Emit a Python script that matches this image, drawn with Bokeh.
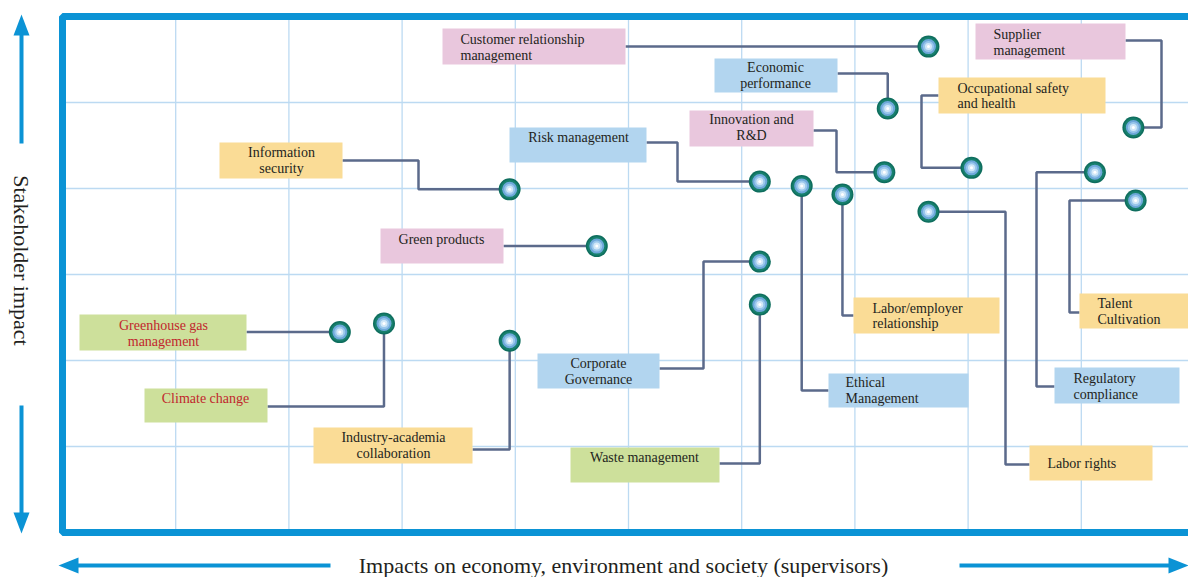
import math
from bokeh.plotting import figure
from bokeh.models import Range1d
from bokeh.core.properties import value
from bokeh.embed import file_html
from bokeh.resources import INLINE

# ---------------- data ----------------
topics = ["Customer relationship management", "Economic performance", "Supplier management",
          "Occupational safety and health", "Innovation and R&D", "Risk management",
          "Information security", "Green products", "Ethical Management",
          "Labor/employer relationship", "Labor rights", "Regulatory compliance",
          "Talent Cultivation", "Corporate Governance", "Waste management",
          "Industry-academia collaboration", "Greenhouse gas management", "Climate change"]
# x: impacts on economy, environment and society (grid units 0-10)
economy_impact = [7.65, 7.29, 9.46, 8.03, 7.26, 6.16, 3.95, 4.72, 6.53,
                  6.89, 7.65, 9.12, 9.48, 6.16, 6.16, 3.95, 2.45, 2.84]
# y: stakeholder impact (grid units 0-6)
stakeholder_impact = [5.65, 4.93, 4.71, 4.24, 4.19, 4.08, 3.99, 3.33, 4.03,
                      3.93, 3.73, 4.19, 3.86, 3.15, 2.65, 2.23, 2.33, 2.43]
label_lines = [["Customer relationship", "management"], ["Economic", "performance"],
               ["Supplier", "management"], ["Occupational safety", "and health"],
               ["Innovation and", "R&D"], ["Risk management"], ["Information", "security"],
               ["Green products"], ["Ethical", "Management"], ["Labor/employer", "relationship"],
               ["Labor rights"], ["Regulatory", "compliance"], ["Talent", "Cultivation"],
               ["Corporate", "Governance"], ["Waste management"],
               ["Industry-academia", "collaboration"], ["Greenhouse gas", "management"],
               ["Climate change"]]
category = ["pink", "blue", "pink", "yellow", "pink", "blue", "yellow", "pink", "blue",
            "yellow", "yellow", "blue", "yellow", "blue", "green", "yellow", "green", "green"]
x_title = "Impacts on economy, environment and society (supervisors)"
y_title = "Stakeholder impact"

# ---------------- layout (reference pixels) ----------------
def X(px):
    return (px - 62) / 113.2

def Y(py):
    return (532 - py) / 86

# box x0, x1, y0, y1 | text align, text x, line ys | route kind, anchor x, anchor y, elbow x
layout = [
    ((442, 625, 28, 64), "left", 460, [39, 55], ("h", 625, None, None)),
    ((714, 837, 58, 92), "center", 775, [67, 83], ("hv", 837, 73, None)),
    ((975, 1125, 23, 59), "left", 993, [34, 50], ("hvh", 1125, 40, 1161)),
    ((938, 1105, 77, 113), "left", 957, [88, 103], ("hvh", 938, 95, 921)),
    ((689, 813, 110, 146), "center", 751, [119, 135], ("hvh", 813, 130, 836)),
    ((509, 646, 127, 162), "center", 578, [137], ("hvh", 646, 142, 677)),
    ((219, 342, 142, 178), "center", 281, [152, 168], ("hvh", 342, 160, 418)),
    ((380, 503, 228, 263), "center", 441, [239], ("h", 503, None, None)),
    ((828, 968, 373, 407), "left", 845, [382, 398], ("hv", 828, 390, None)),
    ((853, 999, 297, 333), "left", 872, [308, 323], ("hv", 853, 315, None)),
    ((1029, 1152, 445, 480), "left", 1047, [463], ("hvh", 1029, 464, 1005)),
    ((1054, 1179, 367, 403), "left", 1073, [378, 394], ("hvh", 1054, 386, 1036)),
    ((1079, 1188, 293, 328), "left", 1097, [303, 319], ("hvh", 1079, 312, 1069)),
    ((537, 659, 353, 388), "center", 598, [363, 379], ("hvh", 659, 368, 703)),
    ((570, 719, 447, 482), "center", 644, [457], ("hv", 719, 463, None)),
    ((313, 472, 427, 463), "center", 393, [437, 453], ("hv", 472, 449, None)),
    ((79, 246, 314, 350), "center", 163, [325, 341], ("h", 246, None, None)),
    ((144, 267, 388, 422), "center", 205, [398], ("hv", 267, 406, None)),
]

FILL = {"pink": "#e9c7dd", "blue": "#b2d5ef", "yellow": "#fadc96", "green": "#cde09b"}
BLUE = "#0b93d5"
GRIDC = "#bcdaf2"
LINEC = "#5b6a8b"
TEXTC = "#231f20"
REDC = "#c1272d"
FONT = value("Liberation Serif")

W, H = 1188, 577
p = figure(width=W, height=H, x_range=Range1d(X(0), X(W)),
           y_range=Range1d(Y(H), Y(0)), output_backend="svg", toolbar_location=None,
           x_axis_location=None, y_axis_location=None, min_border=0,
           outline_line_color=None, background_fill_color="white",
           border_fill_color="white")
p.grid.visible = False

# grid
p.segment(x0=[float(i) for i in range(1, 10)], y0=[0] * 9, x1=[float(i) for i in range(1, 10)],
          y1=[6] * 9, line_color=GRIDC, line_width=1.3)
p.segment(x0=[0] * 5, y0=[float(j) for j in range(1, 6)], x1=[10] * 5,
          y1=[float(j) for j in range(1, 6)], line_color=GRIDC, line_width=1.3)
# frame
p.quad(left=0, right=10, bottom=0, top=6, fill_color=None, line_color=BLUE, line_width=7)

# connectors
xs, ys = [], []
for (box, al, tx, lys, route), nx, ny in zip(layout, economy_impact, stakeholder_impact):
    kind, ax, ay, ex = route
    if kind == "h":
        xs.append([X(ax), nx]); ys.append([ny, ny])
    elif kind == "hv":
        xs.append([X(ax), nx, nx]); ys.append([Y(ay), Y(ay), ny])
    else:
        xs.append([X(ax), X(ex), X(ex), nx]); ys.append([Y(ay), Y(ay), ny, ny])
p.multi_line(xs=xs, ys=ys, line_color=LINEC, line_width=2.5)

# boxes and labels
bl, br, bb, bt, bc = [], [], [], [], []
t_x, t_y, t_txt, t_al, t_col = [], [], [], [], []
for (box, al, tx, lys, route), lines, cat, name in zip(layout, label_lines, category, topics):
    x0, x1, y0, y1 = box
    bl.append(X(x0)); br.append(X(x1)); bt.append(Y(y0)); bb.append(Y(y1))
    bc.append(FILL[cat])
    col = REDC if name in ("Greenhouse gas management", "Climate change") else TEXTC
    for ln, ly in zip(lines, lys):
        t_x.append(X(tx)); t_y.append(Y(ly)); t_txt.append(ln); t_al.append(al); t_col.append(col)
p.quad(left=bl, right=br, bottom=bb, top=bt, fill_color=bc, line_color=None)
for al in ("left", "center"):
    idx = [i for i, a in enumerate(t_al) if a == al]
    p.text(x=[t_x[i] for i in idx], y=[t_y[i] for i in idx], text=[t_txt[i] for i in idx],
           text_color=[t_col[i] for i in idx], text_align=al, text_baseline="middle",
           text_font=FONT, text_font_size="14px")

# nodes
for size, col in ((22, "#0f6e5e"), (19, "#17806d"), (15, "#6ea8da"), (11, "#9ac7ec"),
                  (7, "#d2e8f8"), (3, "#ffffff")):
    p.scatter(x=economy_impact, y=stakeholder_impact, marker="circle", size=size,
              fill_color=col, line_color=None)

# axis arrows
yb = 565
p.segment(x0=[X(21), X(21), X(76), X(959)], y0=[Y(143), Y(405), Y(yb), Y(yb)],
          x1=[X(21), X(21), X(330), X(1170)], y1=[Y(33), Y(514), Y(yb), Y(yb)],
          line_color=BLUE, line_width=4)
p.patches(xs=[[X(21), X(13), X(29)], [X(21), X(13), X(29)],
              [X(58), X(78), X(78)], [X(1188), X(1168), X(1168)]],
          ys=[[Y(14), Y(35), Y(35)], [Y(533), Y(512), Y(512)],
              [Y(yb), Y(yb - 8), Y(yb + 8)], [Y(yb), Y(yb - 8), Y(yb + 8)]],
          fill_color=BLUE, line_color=None)
p.text(x=[X(623)], y=[Y(yb)], text=[x_title], text_align="center", text_baseline="middle",
       text_font=FONT, text_font_size="22px", text_color=TEXTC)
p.text(x=[X(21)], y=[Y(260)], text=[y_title], angle=-math.pi / 2, text_align="center",
       text_baseline="middle", text_font=FONT, text_font_size="22px", text_color=TEXTC)

open("out.html", "w").write(file_html(p, INLINE))
